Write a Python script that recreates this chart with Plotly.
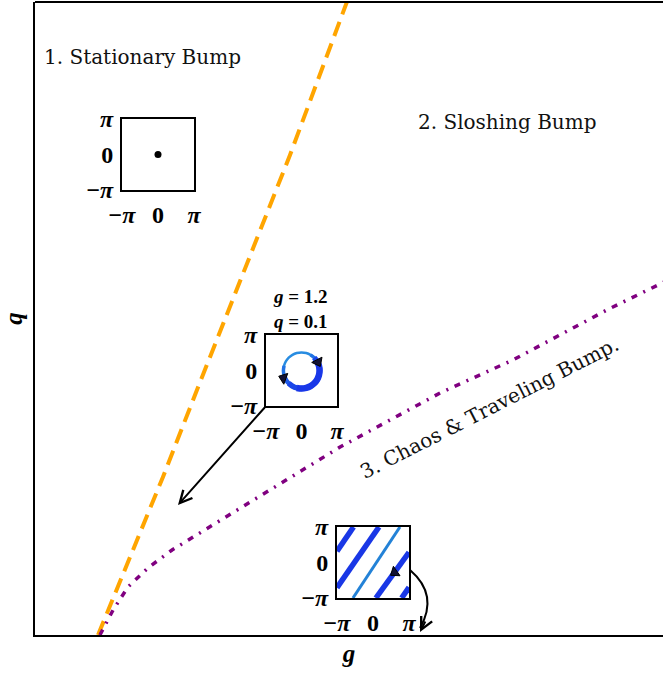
import plotly.graph_objects as go

# phase boundaries in the (g, q) plane
orange_g = [0.529, 0.856, 1.074, 1.359, 1.754, 2.140, 2.670]
orange_q = [0.0, 0.0731, 0.1216, 0.1885, 0.2808, 0.3693, 0.500]

purple_g = [0.545, 0.655, 0.780, 0.948, 1.150, 1.553, 1.888, 2.560, 3.399, 4.011, 4.800, 5.400]
purple_q = [0.0, 0.0192, 0.0369, 0.0516, 0.0654, 0.0877, 0.1069, 0.1446, 0.1862, 0.2116, 0.2501, 0.2770]

# inset 1: stationary bump position
bump_x = [0.0]
bump_y = [0.0]

# inset 2: sloshing orbit (start at top-right, counter-clockwise)
orbit_x = [0.8, 0.414, 0.0, -0.414, -0.8, -1.131, -1.386, -1.545, -1.6, -1.545, -1.386, -1.131,
           -0.8, -0.414, 0.0, 0.414, 0.8, 1.131, 1.386, 1.545, 1.6, 1.545, 1.386, 1.131, 0.8]
orbit_y = [1.386, 1.545, 1.6, 1.545, 1.386, 1.131, 0.8, 0.414, 0.0, -0.414, -0.8, -1.131,
           -1.386, -1.545, -1.6, -1.545, -1.386, -1.131, -0.8, -0.414, 0.0, 0.414, 0.8, 1.131, 1.386]
# thickness layers along the orbit: (first index, last index, width, colour)
orbit_layers = [(0, 24, 2.5, "rgb(40,140,225)"),
                (7, 24, 3.5, "rgb(35,115,228)"),
                (9, 23, 4.5, "rgb(30,90,230)"),
                (11, 23, 5.5, "rgb(27,70,232)"),
                (13, 22, 6.5, "rgb(25,55,232)")]
orbit_dir_x = [1.46, -1.6]
orbit_dir_y = [0.75, -0.66]

# inset 3: traveling bump stripes
stripe_x = [[-3.1416, -1.7], [-3.1416, 0.52], [-1.75, 2.35], [0.25, 3.1416], [2.5, 3.1416]]
stripe_y = [[1.0, 3.1416], [-2.23, 3.1416], [-3.1416, 3.1416], [-3.1416, 0.9], [-3.1416, -2.2]]
stripe_thick = [True, True, False, True, True]
travel_dir_x = [1.89]
travel_dir_y = [-0.88]

PI = 3.14159
tickvals = [-PI, 0, PI]
ticktext = ["<b>−<i>π</i></b>", "<b>0</b>", "<b><i>π</i></b>"]

W, H = 663, 673
L, R, T, B = 35, 0, 2, 38


def dom_x(a, b):
    return [(a - L) / (W - L - R), (b - L) / (W - L - R)]


def dom_y(top, bot):
    h = H - T - B
    return [(H - B - bot) / h, (H - B - top) / h]


fig = go.Figure()

fig.add_trace(go.Scatter(x=orange_g, y=orange_q, mode="lines",
                         line=dict(color="#FFA500", width=4, dash="15px,8px")))
fig.add_trace(go.Scatter(x=purple_g, y=purple_q, mode="lines",
                         line=dict(color="#800080", width=3.5, dash="6px,7px,2px,7px")))

# inset 1
fig.add_trace(go.Scatter(x=bump_x, y=bump_y, mode="markers", xaxis="x2", yaxis="y2",
                         marker=dict(color="black", size=7)))

# inset 2
for i0, i1, w, c in orbit_layers:
    fig.add_trace(go.Scatter(x=orbit_x[i0:i1 + 1], y=orbit_y[i0:i1 + 1], mode="lines",
                             xaxis="x3", yaxis="y3",
                             line=dict(color=c, width=w, shape="spline")))
fig.add_trace(go.Scatter(x=orbit_dir_x, y=orbit_dir_y, mode="markers", xaxis="x3", yaxis="y3",
                         marker=dict(symbol=["triangle-down", "triangle-left"], angle=[-27, 20],
                                     size=10, color="#111133", line=dict(color="black", width=1))))

# inset 3
for sx, sy, thick in zip(stripe_x, stripe_y, stripe_thick):
    fig.add_trace(go.Scatter(x=sx, y=sy, mode="lines", xaxis="x4", yaxis="y4",
                             line=dict(color="rgb(25,55,230)" if thick else "rgb(35,130,215)",
                                       width=5.5 if thick else 3)))
fig.add_trace(go.Scatter(x=travel_dir_x, y=travel_dir_y, mode="markers", xaxis="x4", yaxis="y4",
                         marker=dict(symbol="triangle-left", angle=-35, size=10, color="#111133",
                                     line=dict(color="black", width=1))))

serif = "DejaVu Serif"
mathfont = dict(family="Liberation Serif", size=24, color="black")

fig.update_layout(
    width=W, height=H, showlegend=False,
    margin=dict(l=L, r=R, t=T, b=B),
    plot_bgcolor="white", paper_bgcolor="white",
    xaxis=dict(range=[0, 5.27], showticklabels=False, ticks="", showgrid=False, zeroline=False,
               showline=True, linecolor="black", linewidth=2, automargin=False,
               title=dict(text="<b><i>g</i></b>", font=dict(family="Liberation Serif", size=25, color="black"),
                          standoff=8)),
    yaxis=dict(range=[0, 0.487], showticklabels=False, ticks="", showgrid=False, zeroline=False,
               showline=True, linecolor="black", linewidth=2, automargin=False,
               title=dict(text="<b><i>q</i></b>", font=dict(family="Liberation Serif", size=25, color="black"),
                          standoff=6)),
)

insets = {
    "2": (dom_x(122, 194), dom_y(119, 190)),
    "3": (dom_x(266, 337), dom_y(335, 406)),
    "4": (dom_x(337, 409), dom_y(527, 598)),
}
for k, (dx, dy) in insets.items():
    common = dict(range=[-PI, PI], tickvals=tickvals, ticktext=ticktext, ticks="",
                  showgrid=False, zeroline=False, showline=True, mirror=True, automargin=False,
                  linecolor="black", linewidth=2, tickfont=mathfont, ticklabelstandoff=2)
    fig.update_layout({"xaxis" + k: dict(domain=dx, anchor="y" + k, **common),
                       "yaxis" + k: dict(domain=dy, anchor="x" + k, **common)})

# top frame line
fig.add_shape(type="line", xref="paper", yref="paper", x0=0, x1=1, y0=1, y1=1,
              line=dict(color="black", width=2))

# curved arrow from inset 3
fig.add_shape(type="path", xref="x", yref="y",
              path="M 3.147,0.050 Q 3.390,0.0308 3.231,0.0054",
              line=dict(color="black", width=2))

fig.add_annotation(x=3.231, y=0.0023, ax=6, ay=-12, text="", showarrow=True,
                   arrowhead=5, arrowsize=1.2, arrowwidth=2, arrowcolor="black")
fig.add_annotation(x=1.2, y=0.1, ax=1.939, ay=0.1762, axref="x", ayref="y", text="",
                   showarrow=True, arrowhead=5, arrowsize=1.2, arrowwidth=2, arrowcolor="black")

labels = [
    ("1. Stationary Bump", 0.059, 0.4447, "left", 0),
    ("2. Sloshing Bump", 3.197, 0.3947, "left", 0),
    ("3. Chaos &amp; Traveling Bump.", 3.810, 0.1747, "center", -27),
]
for txt, x, y, anc, ang in labels:
    fig.add_annotation(x=x, y=y, text=txt, showarrow=False, xanchor=anc, yanchor="middle",
                       textangle=ang, font=dict(family=serif, size=20, color="#111111"))

fig.add_annotation(x=2.232, y=0.2508, text="<b><i>g</i> = 1.2</b><br><b><i>q</i> = 0.1</b>",
                   showarrow=False, yanchor="middle",
                   font=dict(family="Liberation Serif", size=19, color="black"))

# the page body has a default 8px margin; drop it so the figure fills the window
fig.write_html("out.html", config={"displayModeBar": False},
               post_script="document.body.style.margin='0';")
